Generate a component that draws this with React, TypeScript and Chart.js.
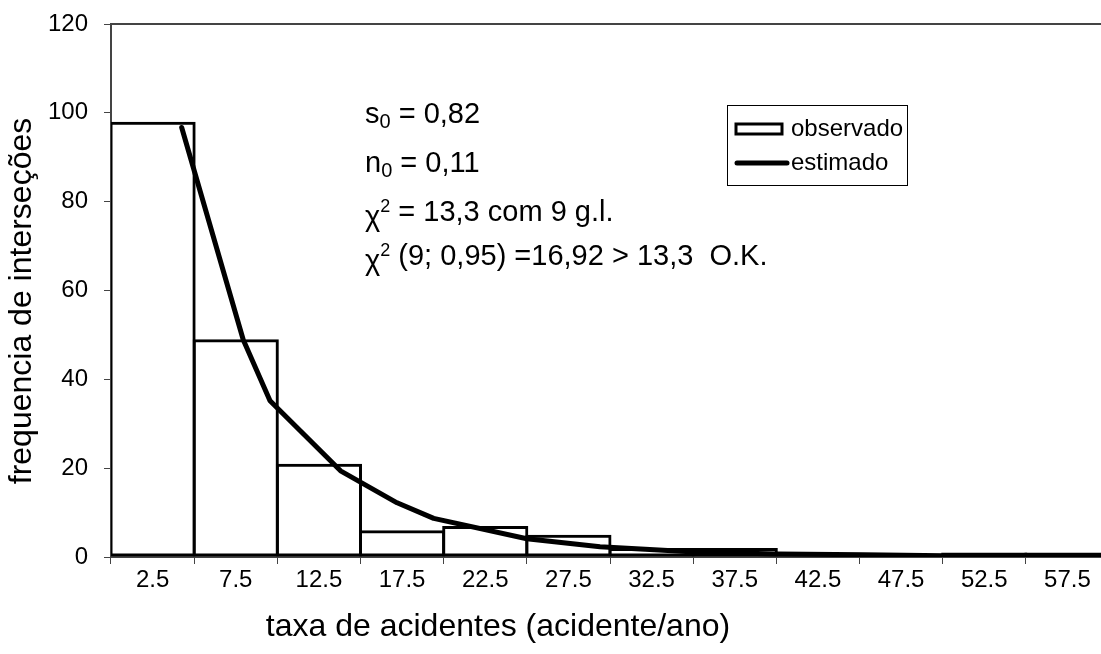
import React, { useEffect, useRef } from "react";
import { Chart, registerables } from "chart.js";

Chart.register(...registerables);

const categories = ["2.5", "7.5", "12.5", "17.5", "22.5", "27.5", "32.5", "37.5", "42.5", "47.5", "52.5", "57.5"];
const observed = [98, 49, 21, 6, 7, 5, 2, 2, 0, 0, 1, 1];
const estimatedX = [4.25, 7.95, 9.56, 13.8, 17.2, 19.4, 25.0, 29.4, 35.1, 40.1, 45.2, 50.1, 55.2, 60];
const estimatedY = [96.7, 48.9, 35.2, 19.4, 12.2, 8.7, 4.1, 2.3, 1.1, 0.7, 0.5, 0.3, 0.25, 0.2];
const yMin = 0;
const yMax = 120;
const yStep = 20;
const xTitle = "taxa de acidentes (acidente/ano)";
const yTitle = "frequencia de interseções";
const legendLabels = ["observado", "estimado"];

const FONT = "'Liberation Sans', Arial, Helvetica, sans-serif";
const W = 1120;
const H = 654;
const PLOT_LEFT = 111;
const PLOT_RIGHT = 1109;
const PLOT_TOP = 24;
const PLOT_BOTTOM = 557;

type Seg = { t: string; s: number; dy: number };

const annotation: { y: number; segs: Seg[] }[] = [
  { y: 123, segs: [{ t: "s", s: 29, dy: 0 }, { t: "0", s: 20, dy: 5 }, { t: " = 0,82", s: 29, dy: 0 }] },
  { y: 172, segs: [{ t: "n", s: 29, dy: 0 }, { t: "0", s: 20, dy: 5 }, { t: " = 0,11", s: 29, dy: 0 }] },
  { y: 221, segs: [{ t: "χ", s: 29, dy: 5 }, { t: "2", s: 18, dy: -9 }, { t: " = 13,3 com 9 g.l.", s: 29, dy: 0 }] },
  { y: 265, segs: [{ t: "χ", s: 29, dy: 5 }, { t: "2", s: 18, dy: -9 }, { t: " (9; 0,95) =16,92 > 13,3  O.K.", s: 29, dy: 0 }] },
];

const overlayPlugin = {
  id: "overlay",
  afterDraw(chart: any) {
    const ctx = chart.ctx as CanvasRenderingContext2D;
    const a = chart.chartArea;
    ctx.save();
    // plot border (top)
    ctx.strokeStyle = "#444";
    ctx.lineWidth = 2;
    ctx.beginPath();
    ctx.moveTo(a.left, a.top);
    ctx.lineTo(a.right, a.top);
    ctx.stroke();

    // axis titles
    ctx.fillStyle = "#000";
    ctx.font = `32px ${FONT}`;
    ctx.textAlign = "center";
    ctx.textBaseline = "middle";
    ctx.fillText(xTitle, 498, 627);
    ctx.save();
    ctx.translate(22, 301);
    ctx.rotate(-Math.PI / 2);
    ctx.fillText(yTitle, 0, 0);
    ctx.restore();

    // annotation text
    ctx.textBaseline = "alphabetic";
    ctx.textAlign = "left";
    for (const line of annotation) {
      let x = 365;
      for (const seg of line.segs) {
        ctx.font = `${seg.s}px ${FONT}`;
        ctx.fillText(seg.t, x, line.y + seg.dy);
        x += ctx.measureText(seg.t).width;
      }
    }

    // legend
    ctx.strokeStyle = "#000";
    ctx.lineWidth = 1;
    ctx.fillStyle = "#fff";
    ctx.fillRect(727.5, 105.5, 180, 80);
    ctx.strokeRect(727.5, 105.5, 180, 80);
    ctx.lineWidth = 3;
    ctx.strokeRect(736, 124, 46, 10);
    ctx.lineWidth = 5;
    ctx.lineCap = "round";
    ctx.beginPath();
    ctx.moveTo(737, 163);
    ctx.lineTo(787, 163);
    ctx.stroke();
    ctx.fillStyle = "#000";
    ctx.font = `24px ${FONT}`;
    ctx.textBaseline = "middle";
    ctx.fillText(legendLabels[0], 791, 129);
    ctx.fillText(legendLabels[1], 791, 163);
    ctx.restore();
  },
};

const zeroPad = (s: any) => {
  s.paddingTop = 0;
  s.paddingBottom = 0;
  s.paddingLeft = 0;
  s.paddingRight = 0;
};

export default function App() {
  const ref = useRef<HTMLCanvasElement | null>(null);
  useEffect(() => {
    if (!ref.current) return;
    const chart = new Chart(ref.current, {
      type: "bar",
      data: {
        labels: categories,
        datasets: [
          {
            type: "line",
            label: legendLabels[1],
            data: estimatedX.map((x, i) => ({ x, y: estimatedY[i] })),
            xAxisID: "xl",
            yAxisID: "y",
            borderColor: "#000",
            borderWidth: 5,
            pointRadius: 0,
            tension: 0,
            borderCapStyle: "round",
            borderJoinStyle: "round",
            order: 0,
          } as any,
          {
            type: "bar",
            label: legendLabels[0],
            data: observed,
            xAxisID: "x",
            yAxisID: "y",
            backgroundColor: "rgba(255,255,255,0)",
            borderColor: "#000",
            borderWidth: 3,
            borderSkipped: false,
            barPercentage: 1.036,
            categoryPercentage: 1,
            grouped: false,
            order: 1,
          } as any,
        ],
      },
      options: {
        responsive: false,
        animation: false,
        layout: { padding: { left: 0, right: W - PLOT_RIGHT, top: PLOT_TOP, bottom: 0 } },
        plugins: { legend: { display: false }, tooltip: { enabled: false } },
        scales: {
          x: {
            type: "category",
            offset: true,
            grid: { offset: true, drawOnChartArea: false, drawTicks: true, tickLength: 7, color: "#444", lineWidth: 1 },
            border: { color: "#444", width: 2 },
            ticks: { color: "#000", font: { family: FONT, size: 24 }, padding: 2, maxRotation: 0, autoSkip: false },
            title: { display: false },
            afterFit: (s: any) => {
              s.height = H - PLOT_BOTTOM;
              zeroPad(s);
            },
          },
          xl: { type: "linear", min: 0, max: 60, display: false, offset: false, grid: { offset: false } },
          y: {
            min: yMin,
            max: yMax,
            ticks: { stepSize: yStep, color: "#000", font: { family: FONT, size: 24 }, padding: 16 },
            grid: { drawOnChartArea: false, drawTicks: true, tickLength: 7, color: "#444" },
            border: { color: "#444", width: 2 },
            title: { display: false },
            afterFit: (s: any) => {
              s.width = PLOT_LEFT;
              zeroPad(s);
            },
          },
        },
      } as any,
      plugins: [overlayPlugin],
    });
    return () => chart.destroy();
  }, []);
  return (
    <div style={{ position: "fixed", left: 0, top: 0, width: 1101, height: 654, overflow: "hidden", background: "#fff" }}>
      <canvas ref={ref} width={W} height={H} style={{ display: "block", width: W, height: H }} />
    </div>
  );
}
